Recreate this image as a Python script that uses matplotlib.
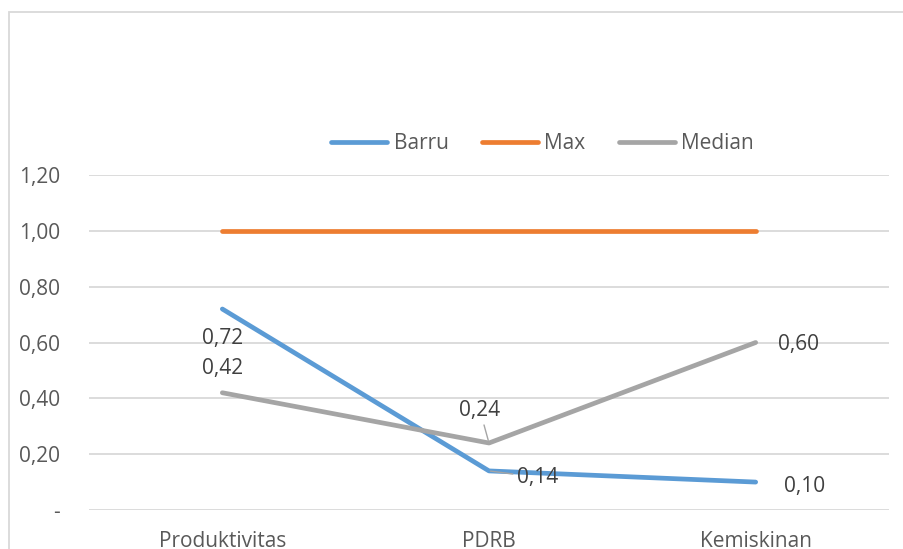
import matplotlib.pyplot as plt
from matplotlib.patches import Rectangle

categories = ["Produktivitas", "PDRB", "Kemiskinan"]
barru = [0.72, 0.14, 0.10]
max_vals = [1.00, 1.00, 1.00]
median = [0.42, 0.24, 0.60]
yticks = [0, 0.2, 0.4, 0.6, 0.8, 1.0, 1.2]

plt.rcParams['font.family'] = ['Open Sans', 'DejaVu Sans']

fig = plt.figure(figsize=(9.04, 5.49), dpi=100)
W, H = 904, 549
FS = 15

# light frame around the chart area
fig.patches.append(Rectangle((8.5 / W, -0.1), 1.2, (H - 12.5) / H + 0.1,
                             transform=fig.transFigure, fill=False,
                             edgecolor="#D9D9D9", linewidth=1.3))

ax = fig.add_axes([89 / W, (H - 510) / H, 800 / W, 335 / H])
x = list(range(len(categories)))

ax.plot(x, barru, color="#5B9BD5", lw=3.4, solid_capstyle="round", label="Barru", zorder=3)
ax.plot(x, max_vals, color="#ED7D31", lw=3.4, solid_capstyle="round", label="Max", zorder=3)
ax.plot(x, median, color="#A5A5A5", lw=3.4, solid_capstyle="round", label="Median", zorder=3)

ax.set_xlim(-0.5, 2.5)
ax.set_ylim(0, 1.2)
ax.set_yticks(yticks)
ax.set_yticklabels(["-" if v == 0 else f"{v:.2f}".replace(".", ",") for v in yticks])
ax.set_xticks(x)
ax.set_xticklabels(categories)
ax.grid(axis="y", color="#D9D9D9", lw=1.3)
ax.set_axisbelow(True)
for s in ax.spines.values():
    s.set_visible(False)
ax.tick_params(axis="y", length=0, pad=21, labelsize=FS, labelcolor="#595959")
ax.tick_params(axis="x", length=0, pad=15, labelsize=FS, labelcolor="#595959")

def fmt(v):
    return f"{v:.2f}".replace(".", ",")

lab = dict(fontsize=FS, color="#404040", ha="center", va="center",
           textcoords="offset points")
ax.annotate(fmt(barru[0]), (0, barru[0]), xytext=(0, -21), **lab)
ax.annotate(fmt(median[0]), (0, median[0]), xytext=(0, 17.5), **lab)
ax.annotate(fmt(median[1]), (1, median[1]), xytext=(-6.5, 23.5), **lab,
            arrowprops=dict(arrowstyle="-", color="#A5A5A5", lw=1, shrinkA=1, shrinkB=2))
ax.annotate(fmt(barru[1]), (1, barru[1]), xytext=(35, -4.5), **lab,
            arrowprops=dict(arrowstyle="-", color="#A5A5A5", lw=1, shrinkA=1, shrinkB=1))
ax.annotate(fmt(median[2]), (2, median[2]), xytext=(31, -1.5), **lab)
ax.annotate(fmt(barru[2]), (2, barru[2]), xytext=(35, -3.5), **lab)

ax.legend(loc="center", bbox_to_anchor=(0.567, 1.094), ncol=3, frameon=False,
          fontsize=FS, labelcolor="#595959", handlelength=2.7,
          handletextpad=0.3, columnspacing=1.6)

fig.savefig("out.png", dpi=100)
